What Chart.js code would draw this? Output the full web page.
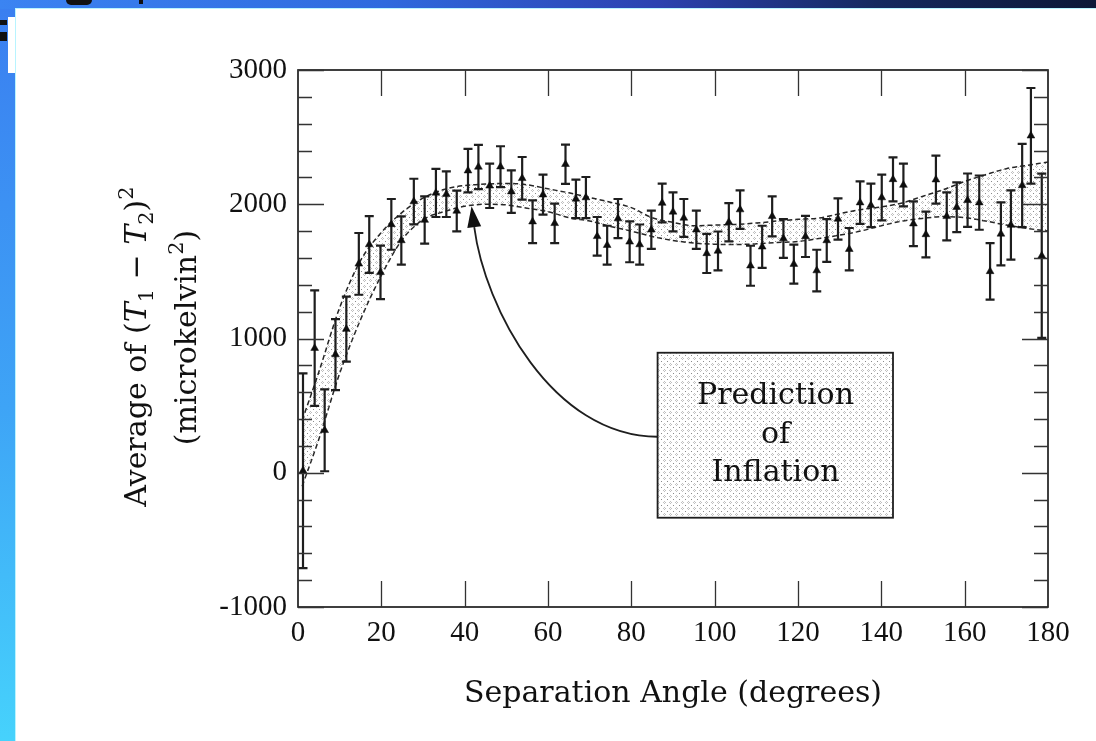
<!DOCTYPE html>
<html>
<head>
<meta charset="utf-8">
<script src="https://cdn.jsdelivr.net/npm/chart.js@4.4.1/dist/chart.umd.min.js"></script>
<style>
  html, body { margin: 0; padding: 0; width: 1096px; height: 741px; overflow: hidden; }
  body { position: relative; background: linear-gradient(to bottom, #3a7ef0 0%, #3ea4f6 55%, #46d2fc 100%); }
  #topband { position: absolute; left: 0; top: 0; width: 1096px; height: 9px;
    background: linear-gradient(to right, #3b84f2 0%, #2f6ade 35%, #2c42b0 60%, #15295f 80%, #0c1838 100%); }
  #panel { position: absolute; left: 15px; top: 8px; right: 0; bottom: 0; background: #fff;
    border-left: 1px solid #b8f4ff; border-top: 1px solid #b8f4ff; }
  .frag { position: absolute; background: #111; }
  #chart { position: absolute; left: 0; top: 0; }
</style>
</head>
<body>
<div id="topband"></div>
<div class="frag" style="left:66px;top:0;width:26px;height:5px;border-radius:0 0 12px 12px;"></div>
<div class="frag" style="left:139px;top:0;width:4px;height:4px;"></div>
<div style="position:absolute;left:8px;top:17px;width:7px;height:56px;background:#fff;"></div>
<div class="frag" style="left:0;top:20px;width:7px;height:5px;"></div>
<div class="frag" style="left:0;top:32px;width:7px;height:9px;"></div>
<div id="panel"></div>
<canvas id="chart" width="1096" height="741"></canvas>
<script>
// Separation angle of each bin (degrees)
const angle = [1.2, 4.0, 6.4, 9.0, 11.6, 14.6, 17.1, 19.8, 22.4, 24.8,
  27.8, 30.4, 33.1, 35.6, 38.1, 40.8, 43.3, 46.0, 48.6, 51.2,
  53.8, 56.3, 58.8, 61.6, 64.2, 66.7, 69.1, 71.8, 74.2, 76.8,
  79.6, 82.0, 84.8, 87.4, 90.0, 92.6, 95.6, 98.1, 100.8, 103.4,
  106.1, 108.6, 111.4, 113.8, 116.5, 119.0, 121.8, 124.5, 126.9, 129.6,
  132.3, 134.9, 137.5, 140.1, 142.8, 145.3, 147.7, 150.7, 153.1, 155.7,
  158.1, 160.7, 163.5, 166.1, 168.7, 171.1, 173.8, 175.9, 178.5];

// Average of (T1 - T2)^2 in each bin (microkelvin^2)
const meanSq = [15, 928, 316, 880, 1070, 1556, 1700, 1493, 1850, 1730,
  2020, 1882, 2084, 2075, 1950, 2250, 2278, 2137, 2280, 2094,
  2193, 1870, 2071, 1858, 2298, 2040, 2050, 1761, 1695, 1893,
  1720, 1700, 1810, 2009, 1943, 1898, 1810, 1634, 1652, 1866,
  1960, 1542, 1683, 1910, 1745, 1554, 1760, 1506, 1730, 1890,
  1665, 2012, 1992, 2050, 2185, 2143, 1855, 1775, 2183, 1910,
  1978, 2030, 2012, 1500, 1779, 1845, 2140, 2510, 1616];

// One-sigma uncertainty of each bin
const sigma = [725, 430, 305, 265, 242, 230, 211, 199, 189, 180,
  170, 176, 179, 170, 152, 162, 165, 165, 152, 158,
  159, 159, 149, 147, 146, 143, 153, 144, 145, 146,
  152, 149, 143, 144, 145, 141, 143, 146, 145, 143,
  143, 149, 157, 149, 144, 145, 153, 155, 159, 154,
  158, 158, 162, 170, 164, 159, 167, 170, 179, 179,
  185, 199, 202, 211, 235, 258, 310, 356, 612];

// Inflation prediction band: upper and lower envelopes
const bandAngle = [1, 5, 10, 15, 20, 25, 30, 35, 40, 45, 50, 55, 60, 65, 70, 75, 80, 85, 90, 95,
  100, 105, 110, 115, 120, 125, 130, 135, 140, 145, 150, 155, 160, 165, 170, 175, 180];
const bandUpper = [390, 750, 1230, 1580, 1790, 1940, 2045, 2110, 2140, 2150, 2155, 2145, 2115, 2085, 2050, 2015, 1975, 1900, 1865, 1840,
  1845, 1850, 1860, 1875, 1888, 1897, 1930, 1960, 1980, 2010, 2060, 2110, 2170, 2220, 2265, 2290, 2315];
const bandLower = [-100, 250, 740, 1140, 1470, 1736, 1885, 1945, 1985, 2000, 1995, 1970, 1945, 1900, 1875, 1835, 1800, 1760, 1730, 1711,
  1702, 1700, 1705, 1715, 1722, 1745, 1770, 1800, 1840, 1875, 1895, 1908, 1900, 1875, 1845, 1820, 1800];

// Axis ticks
const xTicks = [0, 20, 40, 60, 80, 100, 120, 140, 160, 180];
const yTicks = [-1000, 0, 1000, 2000, 3000];
const yMinorStep = 200;

// Callout box and arrow, in data units
const callout = {
  box: { x0: 86.3, x1: 142.8, y0: 894, y1: -335 },
  textX: 114.6,
  lines: [{ t: 'Prediction', y: 514 }, { t: 'of', y: 224 }, { t: 'Inflation', y: -60 }],
  arrow: { p0: [86.3, 268], p1: [61, 268], p2: [44.8, 1230], p3: [42.3, 1830], head: 21 }
};

const INK = '#111';
const SERIF = '"DejaVu Serif", serif';
const TICKFONT = '"Liberation Serif", "DejaVu Serif", serif';

function dotPattern() {
  const c = document.createElement('canvas');
  c.width = 6; c.height = 6;
  const g = c.getContext('2d');
  g.fillStyle = 'rgba(90,90,90,0.7)';
  g.fillRect(1, 1, 1, 1);
  g.fillStyle = 'rgba(130,130,130,0.5)';
  g.fillRect(4, 3, 1, 1); g.fillRect(3, 4, 1, 1); g.fillRect(5, 4, 1, 1); g.fillRect(4, 5, 1, 1);
  return g.createPattern(c, 'repeat');
}
const dots = dotPattern();

// Frame with inward ticks on all four sides
const frameTicks = {
  id: 'frameTicks',
  afterDatasetsDraw(chart) {
    const { ctx, chartArea: a, scales: { x, y } } = chart;
    ctx.save();
    ctx.strokeStyle = '#1e1e1e';
    ctx.lineWidth = 1.7;
    ctx.strokeRect(a.left, a.top, a.right - a.left, a.bottom - a.top);
    ctx.lineWidth = 1.3;
    ctx.strokeStyle = '#333';
    ctx.beginPath();
    for (let v = yTicks[0]; v <= yTicks[yTicks.length - 1]; v += yMinorStep) {
      const py = Math.round(y.getPixelForValue(v)) + 0.5;
      const len = yTicks.includes(v) ? 26 : 14;
      ctx.moveTo(a.left, py); ctx.lineTo(a.left + len, py);
      ctx.moveTo(a.right, py); ctx.lineTo(a.right - len, py);
    }
    xTicks.slice(1, -1).forEach(v => {
      const px = Math.round(x.getPixelForValue(v)) + 0.5;
      ctx.moveTo(px, a.bottom); ctx.lineTo(px, a.bottom - 26);
      ctx.moveTo(px, a.top); ctx.lineTo(px, a.top + 26);
    });
    ctx.stroke();
    ctx.restore();
  }
};

// Vertical error bars with caps, drawn under the markers
const errorBars = {
  id: 'errorBars',
  beforeDatasetDraw(chart, args) {
    if (args.index !== 2) return;
    const { ctx, scales: { x, y } } = chart;
    ctx.save();
    ctx.strokeStyle = '#1e1e1e';
    ctx.lineWidth = 2.2;
    angle.forEach((a, i) => {
      const px = x.getPixelForValue(a);
      const top = y.getPixelForValue(meanSq[i] + sigma[i]);
      const bot = y.getPixelForValue(meanSq[i] - sigma[i]);
      ctx.beginPath();
      ctx.moveTo(px, top); ctx.lineTo(px, bot);
      ctx.moveTo(px - 4.5, top); ctx.lineTo(px + 4.5, top);
      ctx.moveTo(px - 4.5, bot); ctx.lineTo(px + 4.5, bot);
      ctx.stroke();
    });
    ctx.restore();
  }
};

// Callout box with curved arrow pointing at the band
const calloutPlugin = {
  id: 'callout',
  afterDatasetsDraw(chart) {
    const { ctx, scales: { x, y } } = chart;
    const P = p => [x.getPixelForValue(p[0]), y.getPixelForValue(p[1])];
    const b = callout.box;
    const bx0 = x.getPixelForValue(b.x0), bx1 = x.getPixelForValue(b.x1);
    const by0 = y.getPixelForValue(b.y0), by1 = y.getPixelForValue(b.y1);
    ctx.save();
    ctx.fillStyle = '#fff';
    ctx.fillRect(bx0, by0, bx1 - bx0, by1 - by0);
    ctx.fillStyle = dots;
    ctx.fillRect(bx0, by0, bx1 - bx0, by1 - by0);
    ctx.strokeStyle = '#1e1e1e';
    ctx.lineWidth = 1.8;
    ctx.strokeRect(bx0, by0, bx1 - bx0, by1 - by0);

    ctx.fillStyle = INK;
    ctx.font = '30px ' + SERIF;
    ctx.textAlign = 'center';
    ctx.textBaseline = 'alphabetic';
    callout.lines.forEach(l => ctx.fillText(l.t, x.getPixelForValue(callout.textX), y.getPixelForValue(l.y)));

    const ar = callout.arrow;
    const p0 = P(ar.p0), p1 = P(ar.p1), p2 = P(ar.p2), p3 = P(ar.p3);
    ctx.lineWidth = 1.8;
    ctx.beginPath();
    ctx.moveTo(p0[0], p0[1]);
    ctx.bezierCurveTo(p1[0], p1[1], p2[0], p2[1], p3[0], p3[1]);
    ctx.stroke();
    const dx = p3[0] - p2[0], dy = p3[1] - p2[1];
    const n = Math.hypot(dx, dy), ux = dx / n, uy = dy / n;
    const tip = [p3[0] + ux * ar.head, p3[1] + uy * ar.head];
    ctx.beginPath();
    ctx.moveTo(tip[0], tip[1]);
    ctx.lineTo(p3[0] - uy * 7, p3[1] + ux * 7);
    ctx.lineTo(p3[0] + uy * 7, p3[1] - ux * 7);
    ctx.closePath();
    ctx.fill();
    ctx.restore();
  }
};

// Rotated y-axis title with italic symbols, subscripts and superscripts
function drawRich(ctx, segs, cx, cy, size) {
  const fontOf = s => {
    const sz = (s.sub || s.sup) ? Math.round(size * 0.7) : size;
    return (s.it ? 'italic ' : '') + sz + 'px ' + SERIF;
  };
  let total = 0;
  segs.forEach(s => { ctx.font = fontOf(s); s.w = ctx.measureText(s.t).width; total += s.w; });
  ctx.save();
  ctx.translate(cx, cy);
  ctx.rotate(-Math.PI / 2);
  ctx.textAlign = 'left';
  ctx.textBaseline = 'alphabetic';
  let px = -total / 2;
  segs.forEach(s => {
    ctx.font = fontOf(s);
    const dy = s.sub ? size * 0.22 : (s.sup ? -size * 0.42 : 0);
    ctx.fillText(s.t, px, dy);
    px += s.w;
  });
  ctx.restore();
}

const yTitle = {
  id: 'yTitle',
  afterDraw(chart) {
    const { ctx, chartArea: a } = chart;
    const mid = (a.top + a.bottom) / 2;
    ctx.save();
    ctx.fillStyle = INK;
    drawRich(ctx, [
      { t: 'Average of (' }, { t: 'T', it: true }, { t: '1', sub: true },
      { t: ' \u2212 ' }, { t: 'T', it: true }, { t: '2', sub: true },
      { t: ')' }, { t: '2', sup: true }
    ], 146, mid + 8, 30);
    drawRich(ctx, [{ t: '(microkelvin' }, { t: '2', sup: true }, { t: ')' }], 196, mid - 1, 30);
    ctx.restore();
  }
};

new Chart(document.getElementById('chart'), {
  type: 'scatter',
  data: {
    datasets: [
      {
        type: 'line',
        label: 'Inflation (upper)',
        data: bandAngle.map((a, i) => ({ x: a, y: bandUpper[i] })),
        borderColor: '#262626', borderWidth: 1.5, borderDash: [5, 3],
        pointRadius: 0, cubicInterpolationMode: 'monotone',
        fill: '+1', backgroundColor: dots, order: 2
      },
      {
        type: 'line',
        label: 'Inflation (lower)',
        data: bandAngle.map((a, i) => ({ x: a, y: bandLower[i] })),
        borderColor: '#262626', borderWidth: 1.5, borderDash: [5, 3],
        pointRadius: 0, cubicInterpolationMode: 'monotone',
        fill: false, order: 2
      },
      {
        type: 'scatter',
        label: 'Measured',
        data: angle.map((a, i) => ({ x: a, y: meanSq[i] })),
        pointStyle: 'triangle', pointRadius: 4.5,
        backgroundColor: '#0e0e0e', borderColor: '#0e0e0e', borderWidth: 0.5, order: 0
      }
    ]
  },
  options: {
    responsive: false,
    animation: false,
    events: [],
    layout: { padding: { left: 0, right: 48, top: 70, bottom: 0 } },
    plugins: { legend: { display: false }, tooltip: { enabled: false } },
    scales: {
      x: {
        type: 'linear', min: 0, max: 180,
        afterBuildTicks: s => { s.ticks = xTicks.map(v => ({ value: v })); },
        ticks: { padding: 9, color: INK, font: { family: TICKFONT, size: 29 }, callback: v => String(v), maxRotation: 0 },
        grid: { display: false, drawTicks: false },
        border: { display: false },
        title: { display: true, text: 'Separation Angle (degrees)', color: INK,
          font: { family: SERIF, size: 30 }, padding: { top: 0, bottom: 29 } },
        afterFit: s => { s.height = 134; }
      },
      y: {
        type: 'linear', min: -1000, max: 3000,
        afterBuildTicks: s => { s.ticks = yTicks.map(v => ({ value: v })); },
        ticks: { padding: 11, color: INK, font: { family: TICKFONT, size: 29 }, callback: v => String(v) },
        grid: { display: false, drawTicks: false },
        border: { display: false },
        afterFit: s => { s.width = 298; }
      }
    }
  },
  plugins: [errorBars, frameTicks, calloutPlugin, yTitle]
});
</script>
</body>
</html>
